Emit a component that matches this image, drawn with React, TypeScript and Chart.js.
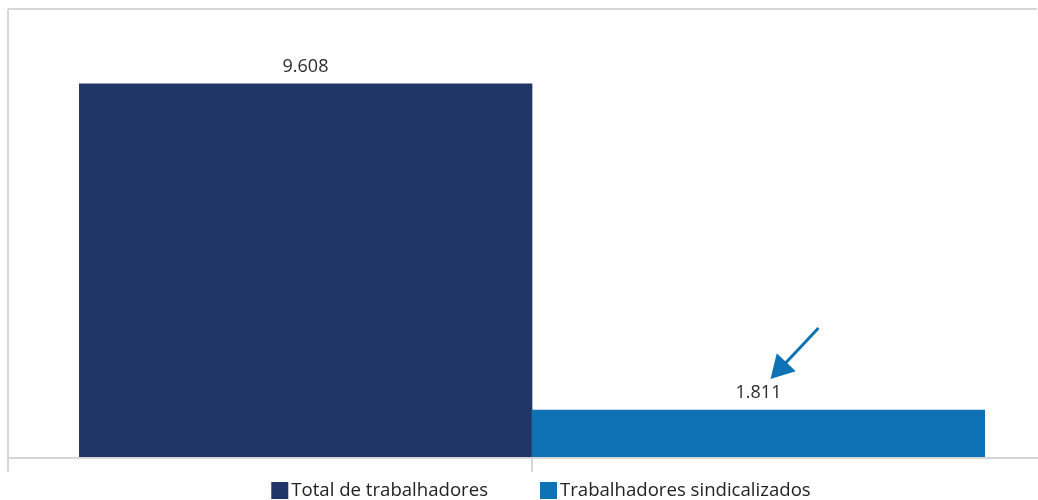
import React, { useEffect, useRef } from "react";
import { Chart, registerables } from "chart.js";

Chart.register(...registerables);

const categories = ["Total de trabalhadores", "Trabalhadores sindicalizados"];
const values = [9608, 1811];
const barColors = ["#1f3666", "#0e72b5"];
const arrowColor = "#0e72b5";

const fmt = (v: number) => String(v).replace(/\B(?=(\d{3})+(?!\d))/g, ".");

const FONT = "'Open Sans', 'Noto Sans', sans-serif";

const decor = {
  id: "decor",
  beforeDatasetsDraw(chart: any) {
    const { ctx } = chart;
    ctx.save();
    ctx.strokeStyle = "#d6d6d6";
    ctx.lineWidth = 2;
    ctx.beginPath();
    ctx.moveTo(8, 9);
    ctx.lineTo(1037, 9);
    ctx.moveTo(8, 9);
    ctx.lineTo(8, 472);
    ctx.stroke();
    ctx.restore();
  },
  afterDatasetsDraw(chart: any) {
    const { ctx, chartArea, scales } = chart;
    const x = scales.x;
    const meta = chart.getDatasetMeta(0);
    ctx.save();
    // baseline + tick
    ctx.strokeStyle = "#d6d6d6";
    ctx.lineWidth = 2;
    ctx.beginPath();
    ctx.moveTo(8, chartArea.bottom + 1);
    ctx.lineTo(1038, chartArea.bottom + 1);
    const mid = (x.getPixelForValue(0) + x.getPixelForValue(1)) / 2;
    ctx.moveTo(mid, chartArea.bottom);
    ctx.lineTo(mid, 472);
    ctx.stroke();

    // value labels
    ctx.fillStyle = "#2b2b2b";
    ctx.font = `18px ${FONT}`;
    ctx.textAlign = "center";
    ctx.textBaseline = "middle";
    meta.data.forEach((el: any, i: number) => {
      ctx.fillText(fmt(values[i]), el.x, el.y - 17);
    });

    // arrow pointing at the second bar's label
    const el = meta.data[1];
    if (el) {
      const tipX = el.x + 12;
      const tipY = el.y - 31;
      const tailX = el.x + 60;
      const tailY = el.y - 82;
      const dx = tipX - tailX;
      const dy = tipY - tailY;
      const len = Math.hypot(dx, dy);
      const ux = dx / len;
      const uy = dy / len;
      const headLen = 23;
      const halfW = 13;
      const bx = tipX - ux * headLen;
      const by = tipY - uy * headLen;
      ctx.strokeStyle = arrowColor;
      ctx.fillStyle = arrowColor;
      ctx.lineWidth = 3;
      ctx.beginPath();
      ctx.moveTo(tailX, tailY);
      ctx.lineTo(bx + ux * 2, by + uy * 2);
      ctx.stroke();
      ctx.beginPath();
      ctx.moveTo(tipX, tipY);
      ctx.lineTo(bx - uy * halfW, by + ux * halfW);
      ctx.lineTo(bx + uy * halfW, by - ux * halfW);
      ctx.closePath();
      ctx.fill();
    }

    // legend
    ctx.font = `18.6px ${FONT}`;
    ctx.textAlign = "left";
    ctx.textBaseline = "middle";
    const box = 17;
    const gapBoxText = 3;
    const gapItems = 52;
    const widths = categories.map((c) => box + gapBoxText + ctx.measureText(c).width);
    const total = widths.reduce((a, b) => a + b, 0) + gapItems * (categories.length - 1);
    let cx = 541 - total / 2;
    const cy = 490;
    categories.forEach((c, i) => {
      ctx.fillStyle = barColors[i];
      ctx.fillRect(cx, cy - 8, box, box);
      ctx.fillStyle = "#222222";
      ctx.fillText(c, cx + box + gapBoxText, cy + 1);
      cx += widths[i] + gapItems;
    });
    ctx.restore();
  },
};

export default function App() {
  const ref = useRef<HTMLCanvasElement | null>(null);
  useEffect(() => {
    if (!ref.current) return;
    const chart = new Chart(ref.current, {
      type: "bar",
      data: {
        labels: categories,
        datasets: [
          {
            label: "Trabalhadores",
            data: values,
            backgroundColor: barColors,
            borderWidth: 0,
            barPercentage: 1,
            categoryPercentage: 1,
          },
        ],
      },
      options: {
        responsive: false,
        animation: false,
        layout: { padding: { left: 79, right: 53, top: 9, bottom: 43 } },
        plugins: { legend: { display: false }, tooltip: { enabled: false } },
        scales: {
          x: { display: false },
          y: { display: false, min: 687, max: 11400 },
        },
      },
      plugins: [decor],
    });
    return () => chart.destroy();
  }, []);
  return (
    <div style={{ position: "fixed", left: 0, top: 0, width: 1038, height: 500, background: "#ffffff" }}>
      <canvas ref={ref} width={1038} height={500} style={{ width: 1038, height: 500, display: "block" }} />
    </div>
  );
}
